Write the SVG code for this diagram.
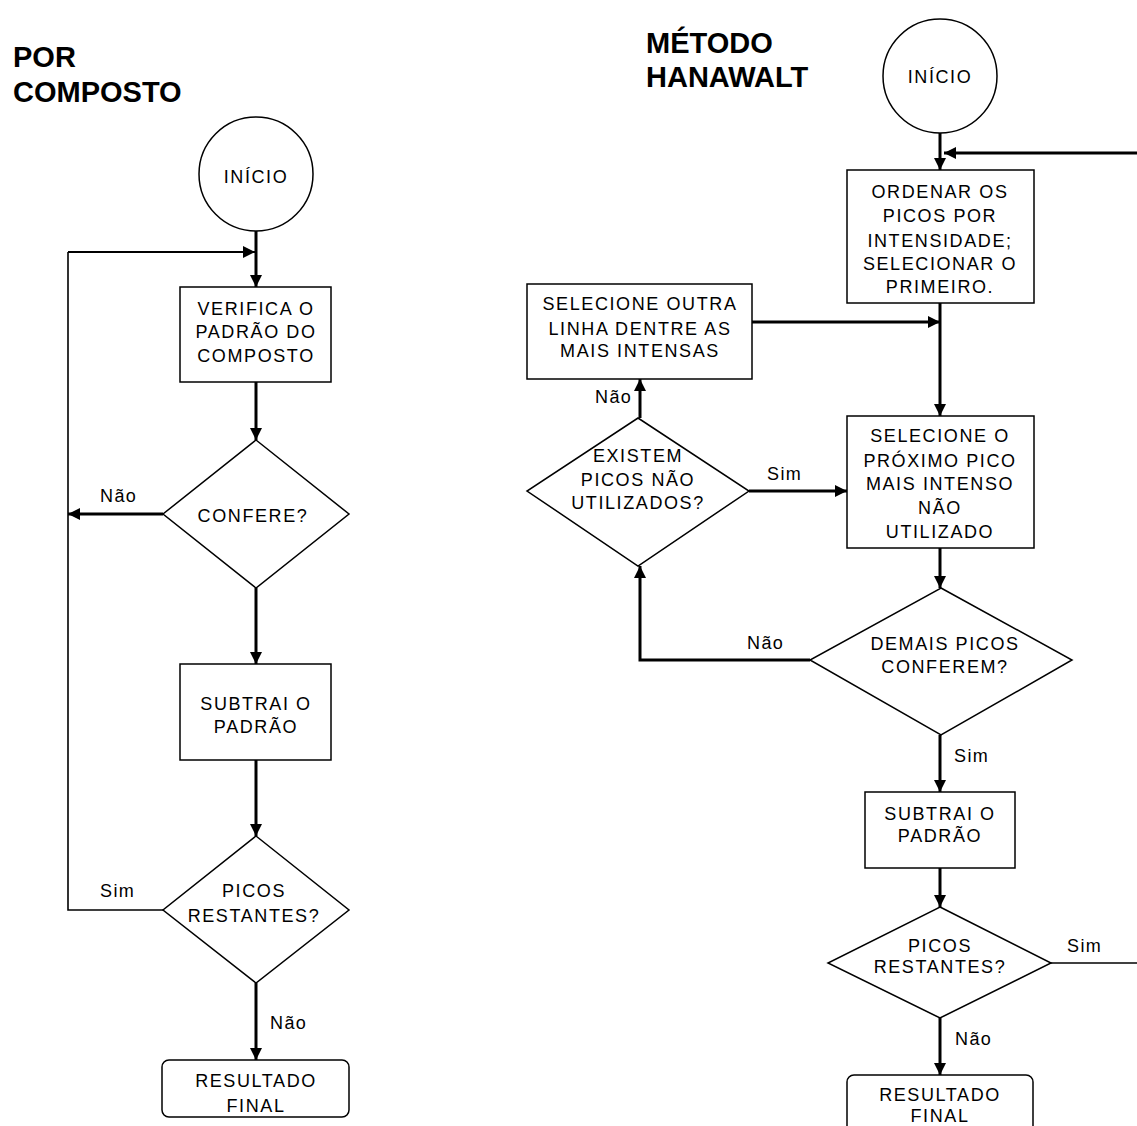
<svg xmlns="http://www.w3.org/2000/svg" width="1137" height="1126" viewBox="0 0 1137 1126">
<defs>
<style>
.t{font-family:"Liberation Sans",Arial,sans-serif;font-size:18px;fill:#000;text-anchor:middle;letter-spacing:1.6px}
.lbl{font-family:"Liberation Sans",Arial,sans-serif;font-size:18px;fill:#000;letter-spacing:1.4px}
.title{font-family:"Liberation Sans",Arial,sans-serif;font-size:29px;font-weight:bold;fill:#000}
.shape{fill:#fff;stroke:#000;stroke-width:1.5}
.c{fill:none;stroke:#000;stroke-width:3}
.cn{fill:none;stroke:#000;stroke-width:2}
.ct{fill:none;stroke:#000;stroke-width:1.6}
</style>
<marker id="ah" viewBox="0 0 10 10" refX="10" refY="5" markerWidth="12" markerHeight="12" markerUnits="userSpaceOnUse" orient="auto">
<path d="M0,0 L10,5 L0,10 z" fill="#000"/>
</marker>
</defs>
<rect width="1137" height="1126" fill="#fff"/>

<g id="titles">
<text class="title" x="13" y="67">POR</text>
<text class="title" x="13" y="102">COMPOSTO</text>
<text class="title" x="646" y="53">MÉTODO</text>
<text class="title" x="646" y="87">HANAWALT</text>
</g>

<g id="connectors">
<path class="c" d="M256,231 V287" marker-end="url(#ah)"/>
<path class="cn" d="M68,252 H255" marker-end="url(#ah)"/>
<path class="c" d="M256,382 V440" marker-end="url(#ah)"/>
<path class="c" d="M163,514 H68" marker-end="url(#ah)"/>
<path class="c" d="M256,588 V664" marker-end="url(#ah)"/>
<path class="c" d="M256,760 V836" marker-end="url(#ah)"/>
<path class="ct" d="M163,910 H68 V252"/>
<path class="c" d="M256,983 V1060" marker-end="url(#ah)"/>
<path class="c" d="M940,133 V170" marker-end="url(#ah)"/>
<path class="c" d="M1145,153 H944" marker-end="url(#ah)"/>
<path class="c" d="M940,303 V416" marker-end="url(#ah)"/>
<path class="c" d="M752,322 H940" marker-end="url(#ah)"/>
<path class="c" d="M640,418 V379" marker-end="url(#ah)"/>
<path class="c" d="M749,491 H847" marker-end="url(#ah)"/>
<path class="c" d="M940,548 V588" marker-end="url(#ah)"/>
<path class="c" d="M810,660 H640 V566" marker-end="url(#ah)"/>
<path class="c" d="M940,735 V792" marker-end="url(#ah)"/>
<path class="c" d="M940,868 V907" marker-end="url(#ah)"/>
<path class="ct" d="M1051,963 H1145"/>
<path class="c" d="M940,1018 V1075" marker-end="url(#ah)"/>
<text class="lbl" x="100" y="502">Não</text>
<text class="lbl" x="100" y="897">Sim</text>
<text class="lbl" x="270" y="1029">Não</text>
<text class="lbl" x="595" y="403">Não</text>
<text class="lbl" x="767" y="480">Sim</text>
<text class="lbl" x="747" y="649">Não</text>
<text class="lbl" x="954" y="762">Sim</text>
<text class="lbl" x="1067" y="952">Sim</text>
<text class="lbl" x="955" y="1045">Não</text>
</g>

<g id="inicio-left">
<circle class="shape" cx="256" cy="174" r="57"/>
<text class="t" x="256" y="183">INÍCIO</text>
</g>
<g id="verifica">
<rect class="shape" x="180" y="287" width="151" height="95"/>
<text class="t" x="256" y="315">VERIFICA O</text>
<text class="t" x="256" y="338">PADRÃO DO</text>
<text class="t" x="256" y="362">COMPOSTO</text>
</g>
<g id="confere">
<polygon class="shape" points="256,440 349,514 256,588 163,514"/>
<text class="t" x="253" y="522">CONFERE?</text>
</g>
<g id="subtrai-left">
<rect class="shape" x="180" y="664" width="151" height="96"/>
<text class="t" x="256" y="710">SUBTRAI O</text>
<text class="t" x="256" y="733">PADRÃO</text>
</g>
<g id="picos-left">
<polygon class="shape" points="256,836 349,910 256,983 163,910"/>
<text class="t" x="254" y="897">PICOS</text>
<text class="t" x="254" y="922">RESTANTES?</text>
</g>
<g id="resultado-left">
<rect class="shape" x="162" y="1060" width="187" height="57" rx="7"/>
<text class="t" x="256" y="1087">RESULTADO</text>
<text class="t" x="256" y="1112">FINAL</text>
</g>

<g id="inicio-right">
<circle class="shape" cx="940" cy="76" r="57"/>
<text class="t" x="940" y="83">INÍCIO</text>
</g>
<g id="ordenar">
<rect class="shape" x="847" y="170" width="187" height="133"/>
<text class="t" x="940" y="198">ORDENAR OS</text>
<text class="t" x="940" y="222">PICOS POR</text>
<text class="t" x="940" y="247">INTENSIDADE;</text>
<text class="t" x="940" y="270">SELECIONAR O</text>
<text class="t" x="940" y="293">PRIMEIRO.</text>
</g>
<g id="selecione-outra">
<rect class="shape" x="527" y="284" width="225" height="95"/>
<text class="t" x="640" y="310">SELECIONE OUTRA</text>
<text class="t" x="640" y="335">LINHA DENTRE AS</text>
<text class="t" x="640" y="357">MAIS INTENSAS</text>
</g>
<g id="existem">
<polygon class="shape" points="638,418 749,491 638,566 527,491"/>
<text class="t" x="638" y="462">EXISTEM</text>
<text class="t" x="638" y="486">PICOS NÃO</text>
<text class="t" x="638" y="509">UTILIZADOS?</text>
</g>
<g id="selecione-proximo">
<rect class="shape" x="847" y="416" width="187" height="132"/>
<text class="t" x="940" y="442">SELECIONE O</text>
<text class="t" x="940" y="467">PRÓXIMO PICO</text>
<text class="t" x="940" y="490">MAIS INTENSO</text>
<text class="t" x="940" y="514">NÃO</text>
<text class="t" x="940" y="538">UTILIZADO</text>
</g>
<g id="demais">
<polygon class="shape" points="941,588 1072,660 941,735 810,660"/>
<text class="t" x="945" y="650">DEMAIS PICOS</text>
<text class="t" x="945" y="673">CONFEREM?</text>
</g>
<g id="subtrai-right">
<rect class="shape" x="865" y="792" width="150" height="76"/>
<text class="t" x="940" y="820">SUBTRAI O</text>
<text class="t" x="940" y="842">PADRÃO</text>
</g>
<g id="picos-right">
<polygon class="shape" points="940,907 1051,963 940,1018 828,963"/>
<text class="t" x="940" y="952">PICOS</text>
<text class="t" x="940" y="973">RESTANTES?</text>
</g>
<g id="resultado-right">
<rect class="shape" x="847" y="1075" width="186" height="70" rx="7"/>
<text class="t" x="940" y="1101">RESULTADO</text>
<text class="t" x="940" y="1122">FINAL</text>
</g>
</svg>
